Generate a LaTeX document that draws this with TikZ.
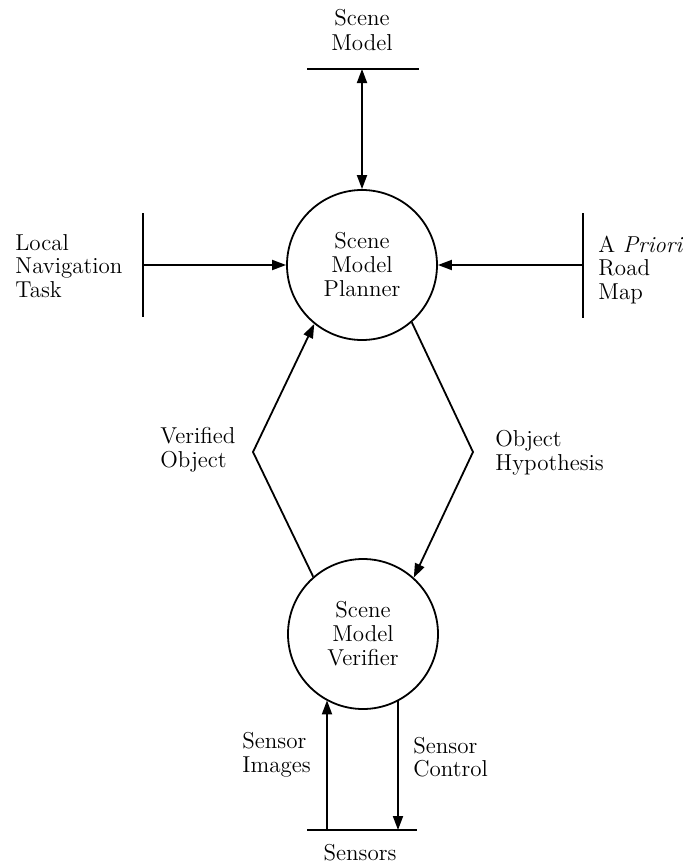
\documentclass[tikz,border=0pt]{standalone}
\usepackage{tikz}
\usetikzlibrary{arrows.meta}
\tikzset{
  procCircle/.style={draw,circle,line width=0.9pt,minimum size=75pt,inner sep=0pt,align=center,font=\fontsize{11.5}{12}\selectfont},
  flowArrow/.style={line width=0.9pt,-{Triangle[length=7pt,width=5pt]}},
  bothArrow/.style={line width=0.9pt,{Triangle[length=7pt,width=5pt]}-{Triangle[length=7pt,width=5pt]}},
  storeBar/.style={line width=0.9pt},
  dfdLabel/.style={align=left,inner sep=0pt,font=\fontsize{11.5}{11.8}\selectfont}
}

\begin{document}
\begin{tikzpicture}[x=0.5pt,y=-0.5pt]
\useasboundingbox (0,0) rectangle (683,867);
\node[procCircle] (planner) at (362,265) {Scene\\Model\\Planner};
\node[procCircle] (verifier) at (363,634) {Scene\\Model\\Verifier};
\coordinate (modelL) at (307,69);
\coordinate (modelR) at (419,69);
\coordinate (modelMid) at (362,69);
\coordinate (navTop) at (143,213);
\coordinate (navBot) at (143,317);
\coordinate (navMid) at (143,265);
\coordinate (roadTop) at (583,213);
\coordinate (roadBot) at (583,318);
\coordinate (roadMid) at (583,265);
\coordinate (sensL) at (307,830);
\coordinate (sensR) at (417,830);
\coordinate (imgFoot) at (327,830);
\coordinate (ctrlFoot) at (398,830);
\coordinate (verBend) at (253,452);
\coordinate (hypBend) at (473,452);
\draw[storeBar] (modelL) -- (modelR);
\draw[storeBar] (navTop) -- (navBot);
\draw[storeBar] (roadTop) -- (roadBot);
\draw[storeBar] (sensL) -- (sensR);
\draw[bothArrow] (modelMid) -- (planner.north);
\draw[flowArrow] (navMid) -- (planner.west);
\draw[flowArrow] (roadMid) -- (planner.east);
\draw[flowArrow] (verifier.131) -- (verBend) -- (planner.231);
\draw[flowArrow] (planner.311) -- (hypBend) -- (verifier.48);
\draw[flowArrow] (imgFoot) -- (imgFoot |- verifier.241);
\draw[flowArrow] (ctrlFoot |- verifier.298) -- (ctrlFoot);
\node[dfdLabel,align=center,font=\fontsize{11.5}{12.5}\selectfont] (modelTxt) at (362,30) {Scene\\Model};
\node[dfdLabel,anchor=west] (navTxt) at (15,266) {Local\\Navigation\\Task};
\node[dfdLabel,anchor=west] (roadTxt) at (598,270) {A \textit{Priori}\\Road\\Map};
\node[dfdLabel,anchor=west] (verTxt) at (160,450) {Verified\\Object};
\node[dfdLabel,anchor=west] (hypTxt) at (495,453) {Object\\Hypothesis};
\node[dfdLabel,anchor=west] (imgTxt) at (242,755) {Sensor\\Images};
\node[dfdLabel,anchor=west] (ctrlTxt) at (413,757) {Sensor\\Control};
\node[dfdLabel] (sensTxt) at (360,853) {Sensors};
\end{tikzpicture}
\end{document}
